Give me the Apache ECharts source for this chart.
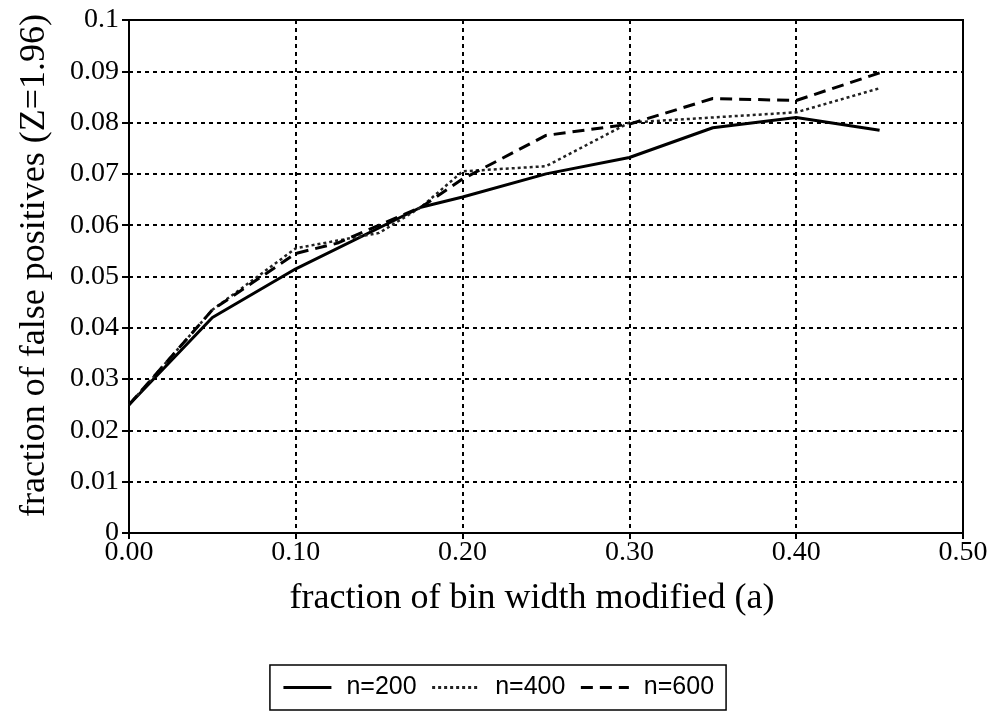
<!DOCTYPE html>
<html>
<head>
<meta charset="utf-8">
<script src="https://cdn.jsdelivr.net/npm/echarts@6/dist/echarts.min.js"></script>
<style>html,body{margin:0;padding:0;background:#fff;}#c{width:996px;height:720px;}</style>
</head>
<body>
<div id="c"></div>
<script>
// x positions (fraction of bin width modified)
var xValues = [0, 0.05, 0.10, 0.125, 0.15, 0.175, 0.20, 0.25, 0.30, 0.35, 0.40, 0.45];
// fraction of false positives per series (null = no point)
var n200 = [0.025, 0.042, 0.0515, null, null, 0.0635, 0.0655, 0.0700, 0.0732, 0.0790, 0.0810, 0.0785];
var n400 = [0.025, 0.0435, 0.0555, 0.0570, 0.0585, 0.0635, 0.0705, 0.0715, 0.0800, 0.0810, 0.0820, 0.0867];
var n600 = [0.025, 0.0435, 0.0545, 0.0565, 0.0600, 0.0635, 0.0690, 0.0775, 0.0797, 0.0847, 0.0843, 0.0897];
var seriesNames = ['n=200', 'n=400', 'n=600'];
var xTickLabels = ['0.00', '0.10', '0.20', '0.30', '0.40', '0.50'];
var yTickLabels = ['0', '0.01', '0.02', '0.03', '0.04', '0.05', '0.06', '0.07', '0.08', '0.09', '0.1'];

function pairs(ys) {
  var out = [];
  for (var i = 0; i < xValues.length; i++) {
    if (ys[i] !== null) out.push([xValues[i], ys[i]]);
  }
  return out;
}

var serif = 'Liberation Serif';
var chart = echarts.init(document.getElementById('c'));
var gridLine = { show: true, lineStyle: { color: '#000', type: [4, 4], width: 2 } };

chart.setOption({
  backgroundColor: '#fff',
  animation: false,
  grid: { left: 129, right: 33, top: 20, bottom: 187, show: true, borderColor: '#000', borderWidth: 2, backgroundColor: 'transparent' },
  legend: {
    bottom: 10,
    left: 'center',
    data: seriesNames,
    itemWidth: 48,
    itemHeight: 14,
    itemGap: 14,
    itemStyle: { opacity: 0 },
    lineStyle: { width: 3 },
    borderColor: '#000',
    borderWidth: 1.5,
    padding: [10, 12],
    textStyle: { fontFamily: 'Liberation Sans', fontSize: 25, color: '#000', padding: [0, 0, 0, 10] }
  },
  xAxis: {
    type: 'value',
    min: 0, max: 0.5, interval: 0.1,
    name: 'fraction of bin width modified (a)',
    nameLocation: 'middle',
    nameGap: 48,
    nameTextStyle: { fontFamily: serif, fontSize: 36, color: '#000', padding: [0, 28, 0, 0] },
    axisLine: { show: true, lineStyle: { color: '#000', width: 2 } },
    axisTick: { show: true, inside: false, length: 6, lineStyle: { color: '#000', width: 2 } },
    axisLabel: {
      fontFamily: serif, fontSize: 28, color: '#000', margin: 6,
      formatter: function (v) { return xTickLabels[Math.round(v * 10)]; }
    },
    splitLine: gridLine
  },
  yAxis: {
    type: 'value',
    min: 0, max: 0.1, interval: 0.01,
    name: 'fraction of false positives (Z=1.96)',
    nameLocation: 'middle',
    nameGap: 76,
    nameTextStyle: { fontFamily: serif, fontSize: 36, color: '#000', padding: [0, 0, 0, 22] },
    axisLine: { show: true, lineStyle: { color: '#000', width: 2 } },
    axisTick: { show: true, inside: false, length: 7, lineStyle: { color: '#000', width: 2 } },
    axisLabel: {
      fontFamily: serif, fontSize: 28, color: '#000', margin: 10,
      formatter: function (v) { return yTickLabels[Math.round(v * 100)]; }
    },
    splitLine: gridLine
  },
  series: [
    { name: seriesNames[0], type: 'line', data: pairs(n200), symbol: 'none', color: '#000',
      lineStyle: { color: '#000', width: 3, type: 'solid' } },
    { name: seriesNames[1], type: 'line', data: pairs(n400), symbol: 'none', color: '#000',
      lineStyle: { color: '#222', width: 2.5, type: [3, 3] } },
    { name: seriesNames[2], type: 'line', data: pairs(n600), symbol: 'none', color: '#000',
      lineStyle: { color: '#000', width: 3, type: [12, 7] } }
  ]
});
</script>
</body>
</html>
